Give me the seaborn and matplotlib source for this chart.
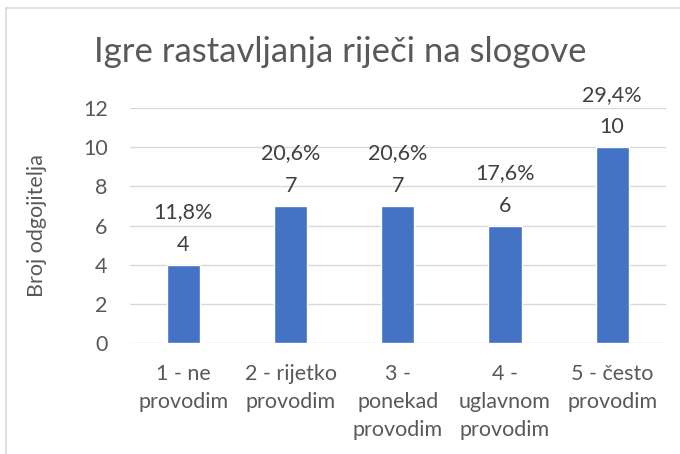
import matplotlib
matplotlib.use("Agg")
import matplotlib.pyplot as plt
import seaborn as sns
import pandas as pd
from matplotlib.patches import Rectangle

categories = ["1 - ne\nprovodim", "2 - rijetko\nprovodim", "3 -\nponekad\nprovodim",
              "4 -\nuglavnom\nprovodim", "5 - često\nprovodim"]
counts = [4, 7, 7, 6, 10]
percents = ["11,8%", "20,6%", "20,6%", "17,6%", "29,4%"]
yticks = [0, 2, 4, 6, 8, 10, 12]

df = pd.DataFrame({"kategorija": categories, "broj": counts})

sns.set_style("white")
plt.rcParams["font.family"] = ["Lato", "DejaVu Sans"]
txt = "#595959"
fs = 15.5

fig = plt.figure(figsize=(6.8, 4.54), dpi=100)
ax = fig.add_axes([0.191, 0.2445, 0.788, 0.5175])

sns.barplot(data=df, x="kategorija", y="broj", color="#4472C4", width=0.31,
            saturation=1, ax=ax, zorder=3)

ax.set_ylim(0, 12)
ax.set_yticks(yticks)
ax.set_xlim(-0.5, len(categories) - 0.5)
ax.yaxis.grid(True, color="#D9D9D9", linewidth=1, zorder=0)
for s in ax.spines.values():
    s.set_visible(False)
ax.tick_params(axis="both", length=0, labelsize=fs, colors=txt)
ax.tick_params(axis="x", pad=15)
ax.tick_params(axis="y", pad=16)
for lab in ax.get_xticklabels():
    lab.set_linespacing(1.5)
ax.set_xlabel("")
ax.set_ylabel("Broj odgojitelja", fontsize=fs, color=txt, labelpad=26)

for i, (c, p) in enumerate(zip(counts, percents)):
    ax.annotate(f"{p}\n{c}", (i, c), xytext=(0, 7), textcoords="offset points",
                ha="center", va="bottom", fontsize=fs, color="#404040",
                linespacing=1.8)

fig.text(0.5, 0.885, "Igre rastavljanja riječi na slogove", ha="center", va="center",
         fontsize=25, color=txt)

fig.patches.append(Rectangle((6 / 680, -0.1), 1.2, 1.1 - 8 / 454, transform=fig.transFigure,
                             fill=False, edgecolor="#D9D9D9", linewidth=1.2))

fig.savefig("out.png", dpi=100)
